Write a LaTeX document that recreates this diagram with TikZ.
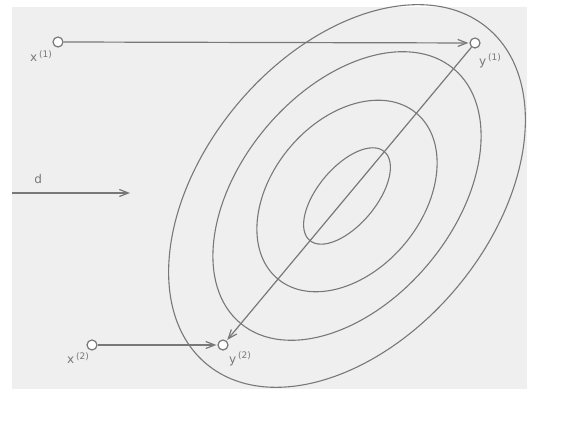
\documentclass[tikz,border=0pt]{standalone}
\usepackage{fontspec}
\setsansfont{DejaVu Sans}
\usetikzlibrary{positioning,arrows.meta}
\definecolor{paper}{RGB}{239,239,239}
\definecolor{ink}{RGB}{120,120,120}
\newcommand\idx[1]{\,\raisebox{4.5pt}{\small(#1)}}
\tikzset{
  pt/.style={circle,draw=ink,fill=white,line width=1.2pt,inner sep=0pt,minimum size=10pt},
  lbl/.style={text=ink,font=\sffamily\large,inner sep=0pt},
  contour/.style={draw=ink,line width=1.1pt},
  flow/.style={draw=ink,line width=1.2pt,-{Straight Barb[length=9pt,width=7pt]},shorten >=1pt}
}
\begin{document}
\begin{tikzpicture}[x=1pt,y=1pt]
   \useasboundingbox (0,0) rectangle (579,427);
   % scanned paper
   \fill[paper] (12,38) rectangle (527,420);
   % contours
   \begin{scope}[shift={(347,231)},rotate=50]
     \foreach \a/\b in {58/29,108/75,166/106,219/143}
       \draw[contour] (0,0) ellipse [x radius=\a pt, y radius=\b pt];
   \end{scope}
   % points
   \node[pt] (x1) at (58,385) {};
   \node[pt] (y1) at (475,384) {};
   \node[pt] (x2) at (92,82) {};
   \node[pt] (y2) at (223,82) {};
   \node[lbl] (x1l) at (41,371) {x\idx{1}};
   \node[lbl] (y1l) at (490,366) {y\idx{1}};
   \node[lbl] (x2l) at (78,69) {x\idx{2}};
   \node[lbl] (y2l) at (240,68) {y\idx{2}};
   % maps
   \draw[flow] (x1) -- (y1);
   \draw[flow] (x2) -- (y2);
   \draw[flow] (y1) -- (y2);
   % direction
   \coordinate (d0) at (12,234);
   \coordinate (d1) at (131,234);
   \draw[flow] (d0) -- node[lbl,above=9pt,pos=0.22]{d} (d1);
\end{tikzpicture}
\end{document}
